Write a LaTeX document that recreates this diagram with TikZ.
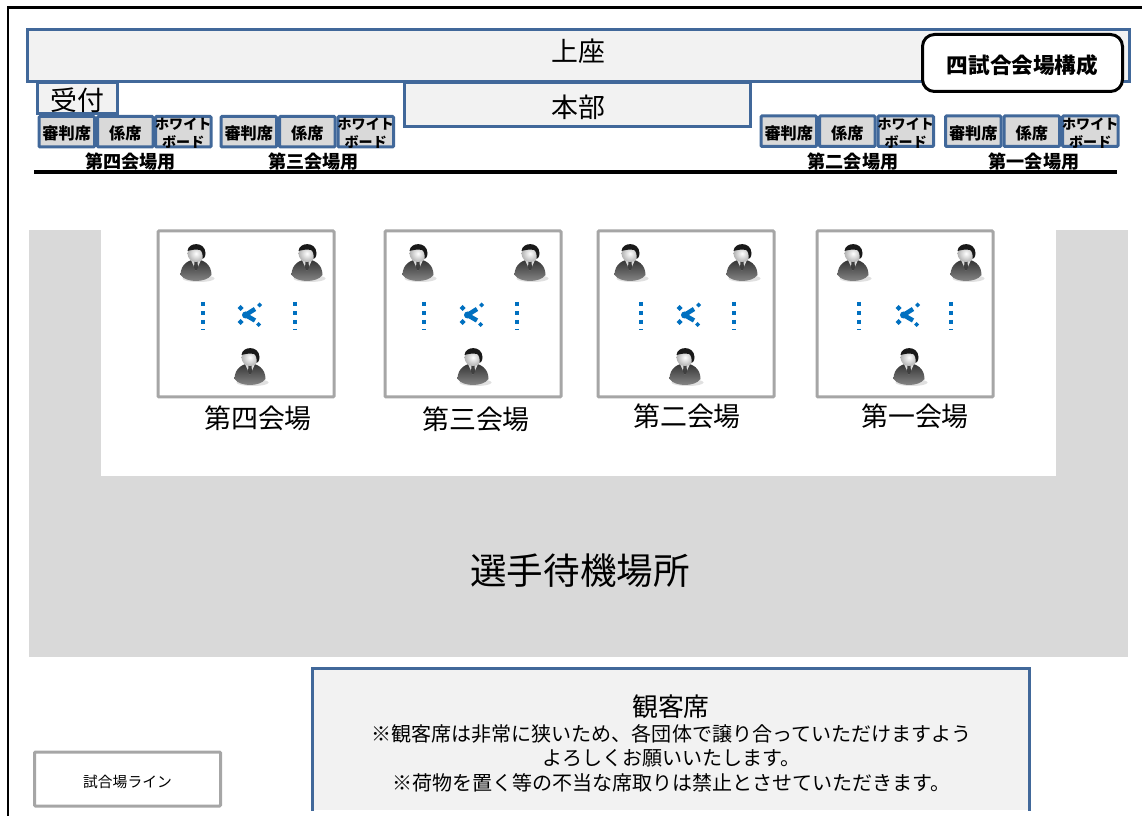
\documentclass[tikz,border=0pt]{standalone}
\usepackage{fontspec}
\setmainfont{Noto Sans CJK JP}

\definecolor{panelline}{HTML}{41689A}
\definecolor{panelfill}{HTML}{F2F2F2}
\definecolor{waitfill}{HTML}{D9D9D9}
\definecolor{arenaline}{HTML}{A6A6A6}
\definecolor{markblue}{HTML}{0070C0}

\tikzset{
  panel/.style={rectangle, draw=panelline, fill=panelfill, line width=0.06cm, inner sep=0pt, anchor=north west},
  paneltext/.style={inner sep=0pt, font=\fontsize{15.3}{16}\selectfont},
  deskbox/.style={rectangle, draw=panelline, fill=waitfill, line width=0.06cm, rounded corners=0.02cm, inner sep=0pt, minimum width=1.11cm, minimum height=0.61cm, anchor=north west},
  desk/.style={deskbox, text height=0.36cm, font=\fontsize{9.2}{9.5}\selectfont\bfseries},
  boardtext/.style={inner sep=0pt, yshift=-0.03cm, align=center, font=\fontsize{8}{10.2}\selectfont\bfseries},
  deskcap/.style={inner sep=0pt, font=\fontsize{10.3}{11}\selectfont\bfseries},
  arena/.style={rectangle, draw=arenaline, fill=white, line width=0.06cm, rounded corners=0.02cm, minimum width=3.52cm, minimum height=3.32cm, anchor=north west},
  arenacap/.style={inner sep=0pt, font=\fontsize{15.3}{16}\selectfont},
  seatdots/.style={draw=markblue, line width=0.08cm, dash pattern=on 0.08cm off 0.1cm},
  seattip/.style={fill=markblue},
  personicon/.pic={
    \fill[black!12] (0.05,-0.31) ellipse (0.32 and 0.07);
    \path[top color=black!80, bottom color=black!45] (-0.31,-0.24) .. controls (-0.31,-0.02) and (-0.14,0.07) .. (0,0.07) .. controls (0.14,0.07) and (0.31,-0.02) .. (0.31,-0.24) .. controls (0.2,-0.4) and (-0.2,-0.4) .. cycle;
    \fill[black!15] (-0.1,0.06) -- (0.1,0.06) -- (0,-0.16) -- cycle;
    \fill[black!75] (-0.03,0.03) -- (0.03,0.03) -- (0.04,-0.1) -- (0,-0.16) -- (-0.04,-0.1) -- cycle;
    \shade[inner color=white, outer color=black!30] (0,0.19) circle (0.17);
    \fill[black!90] (-0.17,0.24) .. controls (-0.16,0.42) and (0.18,0.44) .. (0.19,0.2) .. controls (0.19,0.12) and (0.15,0.08) .. (0.13,0.08) .. controls (0.14,0.18) and (0.12,0.24) .. (0.08,0.26) .. controls (0,0.28) and (-0.1,0.26) .. cycle;
  },
  crossicon/.pic={
    \draw[markblue, line width=0.09cm] (-0.05,0) -- (0.14,0.12);
    \draw[markblue, line width=0.09cm] (-0.05,0) -- (0.14,-0.11);
    \fill[markblue] (-0.05,0) circle (0.07);
    \fill[seattip] (-0.15,0.20) -- (-0.09,0.14) -- (-0.15,0.08) -- (-0.21,0.14) -- cycle;
    \fill[seattip] (-0.15,-0.08) -- (-0.09,-0.14) -- (-0.15,-0.20) -- (-0.21,-0.14) -- cycle;
    \fill[seattip] (0.23,0.25) -- (0.28,0.20) -- (0.23,0.15) -- (0.18,0.20) -- cycle;
    \fill[seattip] (0.21,-0.14) -- (0.26,-0.19) -- (0.21,-0.24) -- (0.16,-0.19) -- cycle;
  }
}

\begin{document}
\begin{tikzpicture}

\useasboundingbox (0,0) rectangle (22.84,-16.32);

\coordinate (framebl) at (0.16,-16.32);
\coordinate (frametl) at (0.16,-0.15);
\coordinate (frametr) at (22.84,-0.15);
\draw[black, line width=0.05cm] (framebl) -- (frametl) -- (frametr);

\node at (0.52,-0.57)[panel, minimum width=22.04cm, minimum height=1.03cm] (kamiza) {};
\node at (0.72,-1.62)[panel, minimum width=1.59cm, minimum height=0.62cm] (uketsuke) {};
\node at (8.06,-1.62)[panel, minimum width=6.92cm, minimum height=0.88cm] (honbu) {};
\node at (11.56,-1.02)[paneltext] (kamizatext) {上座};
\node at (1.55,-2.00)[paneltext] (uketsuketext) {受付};
\node at (11.56,-2.14)[paneltext] (honbutext) {本部};

\node at (0.75,-2.30)[desk] (judge4) {審判席};
\node at (1.92,-2.30)[desk] (staff4) {係席};
\node at (3.08,-2.30)[deskbox] (board4) {};
\node at (board4.center)[boardtext] (boardtext4) {ホワイト\\ボード};
\node at (4.39,-2.30)[desk] (judge3) {審判席};
\node at (5.56,-2.30)[desk] (staff3) {係席};
\node at (6.73,-2.30)[deskbox] (board3) {};
\node at (board3.center)[boardtext] (boardtext3) {ホワイト\\ボード};
\node at (15.19,-2.29)[desk] (judge2) {審判席};
\node at (16.36,-2.29)[desk] (staff2) {係席};
\node at (17.53,-2.29)[deskbox] (board2) {};
\node at (board2.center)[boardtext] (boardtext2) {ホワイト\\ボード};
\node at (18.88,-2.29)[desk] (judge1) {審判席};
\node at (20.05,-2.29)[desk] (staff1) {係席};
\node at (21.22,-2.29)[deskbox] (board1) {};
\node at (board1.center)[boardtext] (boardtext1) {ホワイト\\ボード};

\node at (2.61,-3.24)[deskcap] (cap4) {第四会場用};
\node at (6.27,-3.24)[deskcap] (cap3) {第三会場用};
\node at (17.06,-3.24)[deskcap] (cap2) {第二会場用};
\node at (20.68,-3.24)[deskcap] (cap1) {第一会場用};

\coordinate (rulel) at (0.68,-3.45);
\coordinate (ruler) at (22.34,-3.45);
\draw[black, line width=0.08cm] (rulel) -- (ruler);

\node at (18.42,-0.66)[rectangle, draw=black, fill=white, line width=0.06cm, rounded corners=0.24cm, minimum width=4.00cm, minimum height=1.14cm, text height=0.45cm, anchor=north west, font=\fontsize{12.3}{13}\selectfont\bfseries] (title) {四試合会場構成};

\node at (0.58,-4.60)[rectangle, fill=waitfill, inner sep=0pt, minimum width=21.98cm, minimum height=8.54cm, anchor=north west] (waitarea) {};
\node at (2.02,-4.60)[rectangle, fill=white, inner sep=0pt, minimum width=19.10cm, minimum height=4.92cm, anchor=north west] (floor) {};
\node at (11.60,-11.42)[inner sep=0pt, font=\fontsize{20.8}{22}\selectfont] (waittext) {選手待機場所};

\node at (3.13,-4.59)[arena] (arena4) {};
\node at (7.67,-4.59)[arena] (arena3) {};
\node at (11.93,-4.59)[arena] (arena2) {};
\node at (16.31,-4.59)[arena] (arena1) {};

\pic at (3.92,-5.26) {personicon};
\pic at (6.14,-5.26) {personicon};
\pic at (5.00,-7.34) {personicon};
\draw[seatdots] (4.06,-6.04) -- (4.06,-6.60);
\draw[seatdots] (5.90,-6.04) -- (5.90,-6.60);
\pic at (4.96,-6.30) {crossicon};

\pic at (8.36,-5.26) {personicon};
\pic at (10.60,-5.26) {personicon};
\pic at (9.46,-7.34) {personicon};
\draw[seatdots] (8.48,-6.04) -- (8.48,-6.60);
\draw[seatdots] (10.34,-6.04) -- (10.34,-6.60);
\pic at (9.40,-6.30) {crossicon};

\pic at (12.60,-5.26) {personicon};
\pic at (14.84,-5.26) {personicon};
\pic at (13.70,-7.34) {personicon};
\draw[seatdots] (12.82,-6.04) -- (12.82,-6.60);
\draw[seatdots] (14.68,-6.04) -- (14.68,-6.60);
\pic at (13.74,-6.30) {crossicon};

\pic at (17.06,-5.26) {personicon};
\pic at (19.32,-5.26) {personicon};
\pic at (18.18,-7.34) {personicon};
\draw[seatdots] (17.18,-6.04) -- (17.18,-6.60);
\draw[seatdots] (19.02,-6.04) -- (19.02,-6.60);
\pic at (18.12,-6.30) {crossicon};

\node at (5.16,-8.36)[arenacap] (name4) {第四会場};
\node at (9.52,-8.38)[arenacap] (name3) {第三会場};
\node at (13.74,-8.32)[arenacap] (name2) {第二会場};
\node at (18.30,-8.32)[arenacap] (name1) {第一会場};

\node at (0.66,-15.01)[arena, minimum width=3.72cm, minimum height=1.08cm, text height=0.38cm, font=\fontsize{8.4}{9}\selectfont] (linekey) {試合場ライン};

\node at (6.25,-13.36)[rectangle, fill=panelfill, inner sep=0pt, minimum width=14.32cm, minimum height=2.84cm, anchor=north west] (audience) {};
\draw[panelline, line width=0.06cm] (audience.south west) -- (audience.north west) -- (audience.north east) -- (audience.south east);
\node at (13.42,-14.13)[inner sep=0pt, font=\fontsize{14.7}{15}\selectfont] (audiencetitle) {観客席};
\node at (13.43,-15.16)[inner sep=0pt, align=center, font=\fontsize{11.4}{14}\selectfont] (audiencenote) {※観客席は非常に狭いため、各団体で譲り合っていただけますよう\\よろしくお願いいたします。\\※荷物を置く等の不当な席取りは禁止とさせていただきます。};

\end{tikzpicture}
\end{document}
